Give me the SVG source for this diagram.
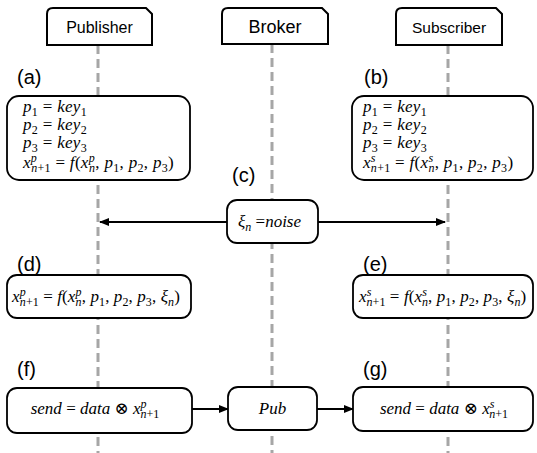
<svg xmlns="http://www.w3.org/2000/svg" width="537" height="453" viewBox="0 0 537 453">
<defs>
<marker id="ah" markerWidth="10" markerHeight="10" refX="9" refY="5" orient="auto" markerUnits="userSpaceOnUse">
<path d="M0,1 L10,5 L0,9 Z" fill="#000"/>
</marker>
<style>
.life{stroke:#a6a6a6;stroke-width:3;stroke-dasharray:9 5;fill:none}
.hdr{fill:#fff;stroke:#000;stroke-width:2}
.box{fill:#fff;stroke:#000;stroke-width:1.8}
.conn{stroke:#000;stroke-width:2;fill:none;marker-end:url(#ah)}
.ht{font-family:"Liberation Sans","Open Sans",sans-serif;fill:#000;text-anchor:middle}
.lab{font-family:"Liberation Sans","Open Sans",sans-serif;font-size:20px;fill:#000}
.m{font-family:"Liberation Serif","DejaVu Serif",serif;font-size:17px;font-style:italic;fill:#000;letter-spacing:0.3px}
.c{letter-spacing:0}
.d{letter-spacing:0.1px}
.n{font-style:normal}
.s{font-size:12px}
</style>
</defs>
<rect width="537" height="453" fill="#fff"/>
<g id="lifelines">
<line class="life" x1="98" y1="45" x2="98" y2="453"/>
<line class="life" x1="272" y1="44" x2="272" y2="453"/>
<line class="life" x1="448" y1="45" x2="448" y2="453"/>
</g>
<g id="publisher">
<path class="hdr" d="M47,45 L47,14 Q47,8 53,8 L146,8 L152,14 L152,45 Z"/>
<text class="ht" x="99.5" y="33" font-size="16">Publisher</text>
</g>
<g id="broker">
<path class="hdr" d="M222,44 L222,14 Q222,8 228,8 L322,8 L328,14 L328,44 Z"/>
<text class="ht" x="275" y="33" font-size="18">Broker</text>
</g>
<g id="subscriber">
<path class="hdr" d="M396,45 L396,14 Q396,8 402,8 L496,8 L502,14 L502,45 Z"/>
<text class="ht" x="449" y="33" font-size="15.5">Subscriber</text>
</g>
<g id="labels">
<text class="lab" x="17" y="84">(a)</text>
<text class="lab" x="364" y="84">(b)</text>
<text class="lab" x="232" y="182">(c)</text>
<text class="lab" x="17" y="271">(d)</text>
<text class="lab" x="363" y="271">(e)</text>
<text class="lab" x="17" y="376">(f)</text>
<text class="lab" x="363" y="376">(g)</text>
</g>
<g id="connectors">
<line class="conn" x1="227" y1="222" x2="100" y2="222"/>
<line class="conn" x1="318" y1="222" x2="445" y2="222"/>
<line class="conn" x1="192" y1="409" x2="228" y2="409"/>
<line class="conn" x1="317" y1="409" x2="353" y2="409"/>
</g>
<g id="node-a">
<rect class="box" x="7" y="96" width="183" height="84" rx="12"/>
<text class="m" x="23" y="112">p<tspan class="s n" dy="4">1</tspan><tspan class="n" dy="-4"> = </tspan>key<tspan class="s n" dy="4">1</tspan></text>
<text class="m" x="23" y="130">p<tspan class="s n" dy="4">2</tspan><tspan class="n" dy="-4"> = </tspan>key<tspan class="s n" dy="4">2</tspan></text>
<text class="m" x="23" y="148">p<tspan class="s n" dy="4">3</tspan><tspan class="n" dy="-4"> = </tspan>key<tspan class="s n" dy="4">3</tspan></text>
<text class="m" x="23" y="168">x<tspan class="s" dy="-6">p</tspan><tspan class="s" dx="-6" dy="10">n</tspan><tspan class="s n">+1</tspan><tspan class="n" dy="-4"> = </tspan>f<tspan class="n">(</tspan>x<tspan class="s" dy="-6">p</tspan><tspan class="s" dx="-6" dy="10">n</tspan><tspan class="n" dy="-4">, </tspan>p<tspan class="s n" dy="4">1</tspan><tspan class="n" dy="-4">, </tspan>p<tspan class="s n" dy="4">2</tspan><tspan class="n" dy="-4">, </tspan>p<tspan class="s n" dy="4">3</tspan><tspan class="n" dy="-4">)</tspan></text>
</g>
<g id="node-b">
<rect class="box" x="352" y="96" width="181" height="84" rx="12"/>
<text class="m" x="363" y="112">p<tspan class="s n" dy="4">1</tspan><tspan class="n" dy="-4"> = </tspan>key<tspan class="s n" dy="4">1</tspan></text>
<text class="m" x="363" y="130">p<tspan class="s n" dy="4">2</tspan><tspan class="n" dy="-4"> = </tspan>key<tspan class="s n" dy="4">2</tspan></text>
<text class="m" x="363" y="148">p<tspan class="s n" dy="4">3</tspan><tspan class="n" dy="-4"> = </tspan>key<tspan class="s n" dy="4">3</tspan></text>
<text class="m" x="363" y="168">x<tspan class="s" dy="-6">s</tspan><tspan class="s" dx="-5" dy="10">n</tspan><tspan class="s n">+1</tspan><tspan class="n" dy="-4"> = </tspan>f<tspan class="n">(</tspan>x<tspan class="s" dy="-6">s</tspan><tspan class="s" dx="-5" dy="10">n</tspan><tspan class="n" dy="-4">, </tspan>p<tspan class="s n" dy="4">1</tspan><tspan class="n" dy="-4">, </tspan>p<tspan class="s n" dy="4">2</tspan><tspan class="n" dy="-4">, </tspan>p<tspan class="s n" dy="4">3</tspan><tspan class="n" dy="-4">)</tspan></text>
</g>
<g id="node-c">
<rect class="box" x="227" y="200" width="91" height="43" rx="10"/>
<text class="m c" x="238" y="227">ξ<tspan class="s" dy="4">n</tspan><tspan class="n" dy="-4"> =</tspan>noise</text>
</g>
<g id="node-d">
<rect class="box" x="7" y="275" width="184" height="43" rx="10"/>
<text class="m d" x="12" y="302">x<tspan class="s" dy="-6">p</tspan><tspan class="s" dx="-6" dy="10">n</tspan><tspan class="s n">+1</tspan><tspan class="n" dy="-4"> = </tspan>f<tspan class="n">(</tspan>x<tspan class="s" dy="-6">p</tspan><tspan class="s" dx="-6" dy="10">n</tspan><tspan class="n" dy="-4">, </tspan>p<tspan class="s n" dy="4">1</tspan><tspan class="n" dy="-4">, </tspan>p<tspan class="s n" dy="4">2</tspan><tspan class="n" dy="-4">, </tspan>p<tspan class="s n" dy="4">3</tspan><tspan class="n" dy="-4">, </tspan>ξ<tspan class="s" dy="4">n</tspan><tspan class="n" dy="-4">)</tspan></text>
</g>
<g id="node-e">
<rect class="box" x="353" y="275" width="180" height="43" rx="10"/>
<text class="m d" x="359" y="302">x<tspan class="s" dy="-6">s</tspan><tspan class="s" dx="-5" dy="10">n</tspan><tspan class="s n">+1</tspan><tspan class="n" dy="-4"> = </tspan>f<tspan class="n">(</tspan>x<tspan class="s" dy="-6">s</tspan><tspan class="s" dx="-5" dy="10">n</tspan><tspan class="n" dy="-4">, </tspan>p<tspan class="s n" dy="4">1</tspan><tspan class="n" dy="-4">, </tspan>p<tspan class="s n" dy="4">2</tspan><tspan class="n" dy="-4">, </tspan>p<tspan class="s n" dy="4">3</tspan><tspan class="n" dy="-4">, </tspan>ξ<tspan class="s" dy="4">n</tspan><tspan class="n" dy="-4">)</tspan></text>
</g>
<g id="node-f">
<rect class="box" x="7" y="388" width="185" height="45" rx="10"/>
<text class="m c" x="95" y="414" text-anchor="middle">send<tspan class="n"> = </tspan>data<tspan class="n"> ⊗ </tspan>x<tspan class="s" dy="-6">p</tspan><tspan class="s" dx="-6" dy="10">n</tspan><tspan class="s n">+1</tspan></text>
</g>
<g id="node-pub">
<rect class="box" x="228" y="387" width="89" height="43" rx="10"/>
<text class="m c" x="272.5" y="414" text-anchor="middle">Pub</text>
</g>
<g id="node-g">
<rect class="box" x="353" y="387" width="180" height="44" rx="10"/>
<text class="m c" x="444" y="414" text-anchor="middle">send<tspan class="n"> = </tspan>data<tspan class="n"> ⊗ </tspan>x<tspan class="s" dy="-6">s</tspan><tspan class="s" dx="-5" dy="10">n</tspan><tspan class="s n">+1</tspan></text>
</g>
</svg>
